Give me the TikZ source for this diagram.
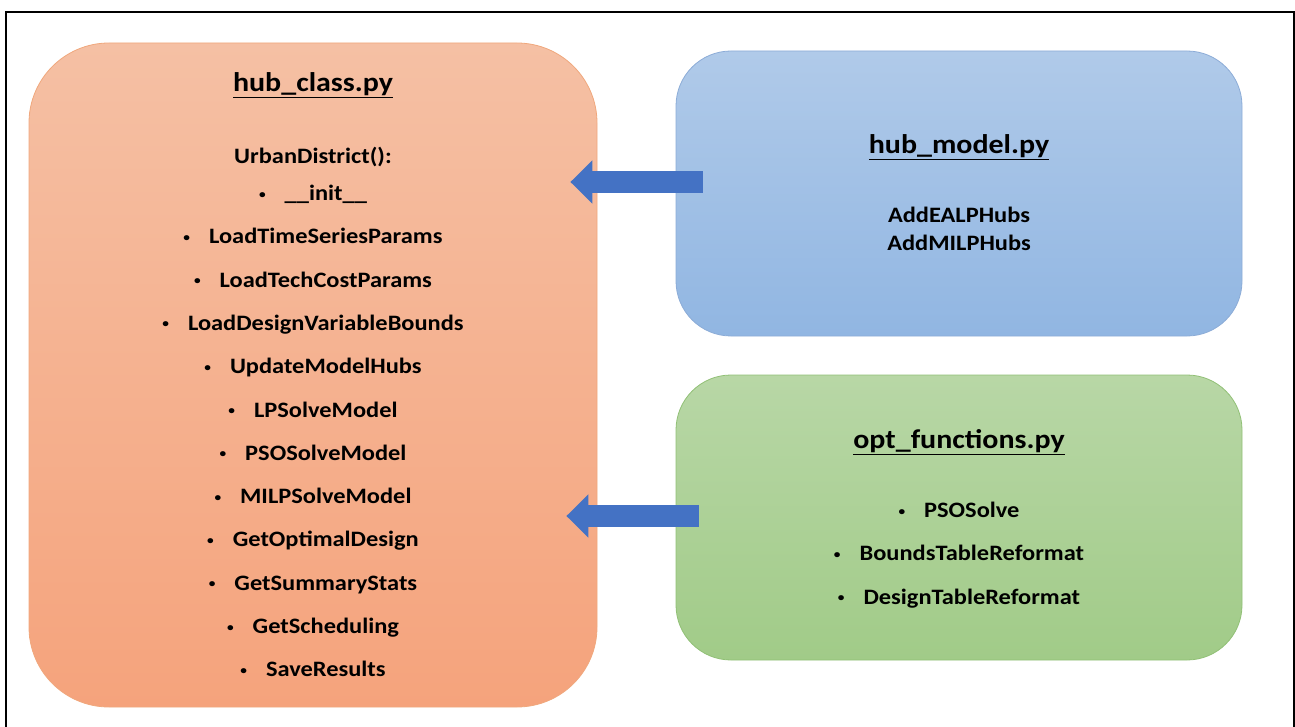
\documentclass[tikz,border=0pt]{standalone}
\usepackage{fontspec}
\setmainfont{Carlito}[FakeStretch=1.11]
\usetikzlibrary{positioning,calc,arrows.meta}
\definecolor{ClassTop}{RGB}{245,192,164}
\definecolor{ClassBot}{RGB}{245,163,124}
\definecolor{ClassLine}{RGB}{240,168,125}
\definecolor{ModelTop}{RGB}{176,202,233}
\definecolor{ModelBot}{RGB}{145,182,226}
\definecolor{ModelLine}{RGB}{140,172,215}
\definecolor{OptTop}{RGB}{184,215,166}
\definecolor{OptBot}{RGB}{161,203,136}
\definecolor{OptLine}{RGB}{145,192,118}
\definecolor{ArrowBlue}{RGB}{68,114,196}
\newcommand{\bitem}[1]{\raisebox{2.5pt}{\fontsize{12}{12}\selectfont\textbullet}\hspace{19pt}#1}
\tikzset{
  filebox/.style={rounded corners=55pt, line width=0.8pt, inner sep=0pt,
    minimum width=566pt, minimum height=285pt},
  filetitle/.style={font=\fontsize{27}{32}\selectfont\bfseries},
  funclist/.style={font=\fontsize{22}{43.3}\selectfont\bfseries, align=center},
  blockarrow/.style={draw=ArrowBlue, line width=22pt,
    -{Triangle[length=22pt,width=42pt]}},
}
\begin{document}
\begin{tikzpicture}[x=1pt, y=-1pt]
  \useasboundingbox (0,0) rectangle (1295,727);
  % frame
  \draw[line width=2pt] (6,727) -- (6,12) -- (1294,12) -- (1294,727);
  % boxes
  \node[filebox, rounded corners=80pt, minimum width=568pt, minimum height=664pt,
    draw=ClassLine, top color=ClassTop, bottom color=ClassBot] (class) at (313,375) {};
  \node[filebox, draw=ModelLine, top color=ModelTop, bottom color=ModelBot] (model) at (959,193.5) {};
  \node[filebox, draw=OptLine, top color=OptTop, bottom color=OptBot] (opt) at (959,517.5) {};
  % texts
  \node[filetitle] (classtitle) at (313,85) {\underline{hub\_class.py}};
  \node[funclist] (classlist) at (313,412) {UrbanDistrict():\\[-6pt]
    \bitem{\_\_init\_\_}\\
    \bitem{LoadTimeSeriesParams}\\
    \bitem{LoadTechCostParams}\\
    \bitem{LoadDesignVariableBounds}\\
    \bitem{UpdateModelHubs}\\
    \bitem{LPSolveModel}\\
    \bitem{PSOSolveModel}\\
    \bitem{MILPSolveModel}\\
    \bitem{GetOptimalDesign}\\
    \bitem{GetSummaryStats}\\
    \bitem{GetScheduling}\\
    \bitem{SaveResults}};
  \node[filetitle] (modeltitle) at (959,147) {\underline{hub\_model.py}};
  \node[funclist, font=\fontsize{22}{28.5}\selectfont\bfseries] (modellist) at (959,229)
    {AddEALPHubs\\AddMILPHubs};
  \node[filetitle] (opttitle) at (959,442) {\underline{opt\_functions.py}};
  \node[funclist] (optlist) at (959,555) {\bitem{PSOSolve}\\
    \bitem{BoundsTableReformat}\\
    \bitem{DesignTableReformat}};
  % arrows
  \coordinate (modelout) at ([xshift=27pt, yshift=11.5pt]model.west);
  \coordinate (classin1) at ($(class.east |- modelout)+(-27,0)$);
  \coordinate (optout) at ([xshift=23pt, yshift=1.5pt]opt.west);
  \coordinate (classin2) at ($(class.east |- optout)+(-31,0)$);
  \draw[blockarrow] (modelout) -- (classin1);
  \draw[blockarrow] (optout) -- (classin2);
\end{tikzpicture}
\end{document}
